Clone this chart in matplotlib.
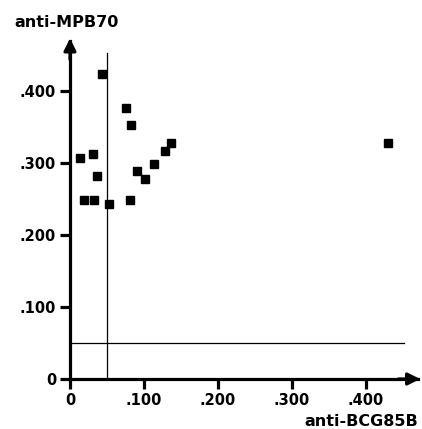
import matplotlib
matplotlib.use("Agg")
import matplotlib.pyplot as plt

# data
anti_bcg85b = [0.043, 0.013, 0.031, 0.036, 0.019, 0.033, 0.053, 0.076, 0.082,
               0.081, 0.091, 0.102, 0.114, 0.129, 0.136, 0.430]
anti_mpb70 = [0.424, 0.307, 0.312, 0.282, 0.248, 0.248, 0.243, 0.376, 0.353,
              0.248, 0.289, 0.278, 0.298, 0.316, 0.328, 0.328]
cutoff_x = 0.05
cutoff_y = 0.05
ticks = [0, 0.1, 0.2, 0.3, 0.4]
tick_labels = ["0", ".100", ".200", ".300", ".400"]

plt.rcParams['font.family'] = ['DejaVu Sans']
plt.rcParams['font.weight'] = 'bold'

fig = plt.figure(figsize=(4.22, 4.29), dpi=100)
ax = fig.add_axes([70/422, 50/429, 347.8/422, 338.4/429])
ax.set_xlim(0, 0.47)
ax.set_ylim(0, 0.47)

for s in ['top', 'right']:
    ax.spines[s].set_visible(False)
for s in ['left', 'bottom']:
    ax.spines[s].set_linewidth(2.3)

ax.set_xticks(ticks)
ax.set_xticklabels(tick_labels)
ax.set_yticks(ticks)
ax.set_yticklabels(tick_labels)
ax.tick_params(direction='out', length=7, width=2.3, labelsize=10.5, pad=3)
for lab in ax.get_xticklabels() + ax.get_yticklabels():
    lab.set_fontweight('bold')

# arrows
ax.annotate('', xy=(0.477, 0), xytext=(0.44, 0), xycoords='data',
            arrowprops=dict(arrowstyle='-|>', color='black', lw=2.3,
                            mutation_scale=18), annotation_clip=False)
ax.annotate('', xy=(0, 0.477), xytext=(0, 0.44), xycoords='data',
            arrowprops=dict(arrowstyle='-|>', color='black', lw=2.3,
                            mutation_scale=18), annotation_clip=False)

# cutoff lines
ax.plot([cutoff_x, cutoff_x], [0, 0.453], color='black', lw=0.9, clip_on=False)
ax.plot([0, 0.451], [cutoff_y, cutoff_y], color='black', lw=0.9, clip_on=False)

ax.plot(anti_bcg85b, anti_mpb70, linestyle='none', marker='s', markersize=5.6,
        color='black', clip_on=False, zorder=5)

fig.text(14/422, 1 - 27/429, "anti-MPB70", fontsize=11.5, fontweight='bold',
         ha='left', va='baseline')
fig.text(418/422, 1 - 425.5/429, "anti-BCG85B", fontsize=11.5, fontweight='bold',
         ha='right', va='baseline')

fig.savefig("out.png", dpi=100)
